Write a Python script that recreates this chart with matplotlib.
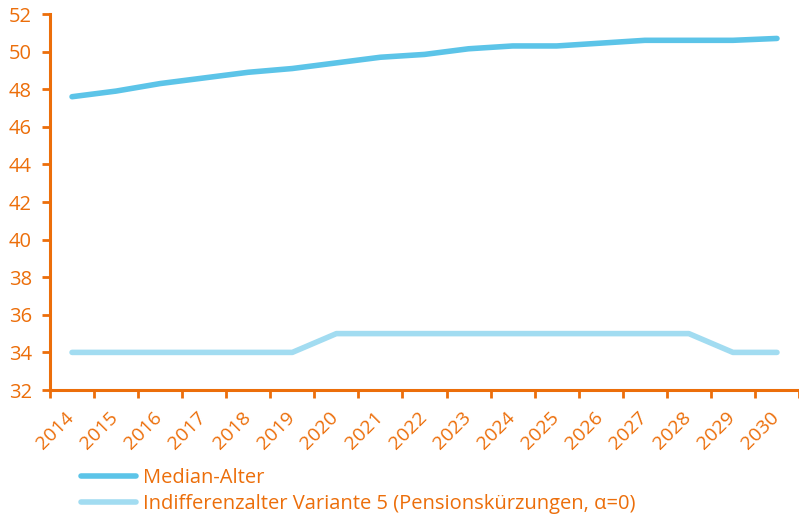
import matplotlib.pyplot as plt
import matplotlib.transforms as mtransforms
import numpy as np

plt.rcParams['font.family'] = ['Open Sans', 'DejaVu Sans']

years = [str(y) for y in range(2014, 2031)]
median_alter = [47.6, 47.9, 48.3, 48.6, 48.9, 49.1, 49.4, 49.7, 49.85, 50.15,
                50.3, 50.3, 50.45, 50.6, 50.6, 50.6, 50.7]
indifferenz = [34, 34, 34, 34, 34, 34, 35, 35, 35, 35, 35, 35, 35, 35, 35, 34, 34]

orange = '#EC6E0A'
blue_dark = '#5CC4E8'
blue_light = '#A2DCF1'

fig = plt.figure(figsize=(7.99, 5.15), dpi=100)
ax = fig.add_axes([50 / 799, 125 / 515, 749 / 799, 376 / 515])

x = np.arange(len(years))
ax.plot(x, median_alter, color=blue_dark, lw=4, solid_capstyle='round',
        label='Median-Alter')
ax.plot(x, indifferenz, color=blue_light, lw=4, solid_capstyle='round',
        label='Indifferenzalter Variante 5 (Pensionskürzungen, α=0)')

ax.set_ylim(32, 52)
ax.set_yticks(range(32, 53, 2))
ax.set_xlim(-0.5, 16.37)

# Beschriftung in der Mitte der Kategorien, Striche an den Grenzen
ax.set_xticks(x)
ax.set_xticklabels(years, rotation=45, ha='right', va='top', rotation_mode='anchor')
ax.set_xticks(np.arange(-0.5, 17, 1), minor=True)
ax.tick_params(axis='x', which='major', length=0, pad=13)
ax.tick_params(axis='x', which='minor', length=6, width=2, color=orange)
ax.tick_params(axis='y', length=6, width=2, color=orange, pad=7)
ax.tick_params(labelsize=14.5, labelcolor=orange)
ax.tick_params(axis='x', labelsize=14)

# Jahreszahlen etwas nach links schieben
shift = mtransforms.ScaledTranslation(-7 / 100, 0, fig.dpi_scale_trans)
for lbl in ax.get_xticklabels():
    lbl.set_transform(lbl.get_transform() + shift)

for s in ['top', 'right']:
    ax.spines[s].set_visible(False)
for s in ['left', 'bottom']:
    ax.spines[s].set_color(orange)
    ax.spines[s].set_linewidth(2.2)

leg = ax.legend(loc='upper left', bbox_to_anchor=(81 / 799, 1 - 468 / 515),
                bbox_transform=fig.transFigure, frameon=False, fontsize=14.5,
                handlelength=2.75, handletextpad=0.35, labelspacing=0.3,
                borderaxespad=0, borderpad=0)
for t in leg.get_texts():
    t.set_color(orange)

fig.savefig('out.png', dpi=100)
